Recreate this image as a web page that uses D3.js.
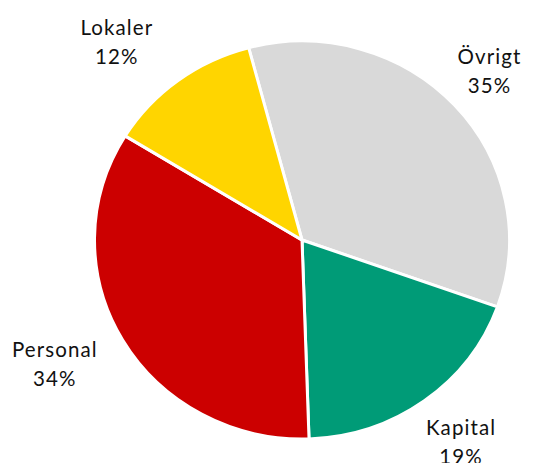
<!DOCTYPE html>
<html>
<head>
<meta charset="utf-8">
<script src="https://cdn.jsdelivr.net/npm/d3@7"></script>
<style>
  html, body { margin: 0; padding: 0; background: #fff; }
  svg text { font-family: "Lato", "DejaVu Sans", sans-serif; font-size: 20.5px; letter-spacing: 1.1px; fill: #111; }
</style>
</head>
<body>
<div id="chart"></div>
<script>
// slices, clockwise from the top-right
const categories = ["Övrigt", "Kapital", "Personal", "Lokaler"];
const shares = [34.6, 19.0, 34.3, 12.1];
const pctLabels = ["35%", "19%", "34%", "12%"];
const colors = ["#D9D9D9", "#009B77", "#CC0000", "#FFD500"];

const WIDTH = 544;
const HEIGHT = 463;
const cx = 302, cy = 240;
const R = 207.5;
const squash = 0.959; // the reference pie is slightly flattened
const startDeg = -14.9;

// label nudges from the outer centroid (Excel "best fit" placement)
const labelNudge = [[-11, -1], [0, -14], [-14, -13], [-24, 2]];
const lineGap = 29;

const data = categories.map((c, i) => ({ name: c, value: shares[i], pct: pctLabels[i], color: colors[i] }));

const svg = d3.select("#chart")
	.append("svg")
	.attr("width", WIDTH)
	.attr("height", HEIGHT)
	.attr("viewBox", `0 0 ${WIDTH} ${HEIGHT}`);

const start = startDeg * Math.PI / 180;
const pie = d3.pie()
	.sort(null)
	.value(d => d.value)
	.startAngle(start)
	.endAngle(start + 2 * Math.PI);

const arcs = pie(data);

const arcGen = d3.arc().innerRadius(0).outerRadius(R);
const labelArc = d3.arc().innerRadius(R * 1.3).outerRadius(R * 1.3);

svg.append("g")
	.attr("transform", `translate(${cx},${cy}) scale(1,${squash})`)
	.selectAll("path")
	.data(arcs)
	.join("path")
	.attr("d", arcGen)
	.attr("fill", d => d.data.color)
	.attr("stroke", "#fff")
	.attr("stroke-width", 3)
	.attr("vector-effect", "non-scaling-stroke");

const labels = svg.append("g")
	.selectAll("text")
	.data(arcs)
	.join("text")
	.attr("text-anchor", "middle")
	.attr("transform", (d, i) => {
		const [x, y] = labelArc.centroid(d);
		return `translate(${cx + x + labelNudge[i][0]},${cy + y * squash + labelNudge[i][1]})`;
	});

labels.append("tspan").attr("x", 0).attr("y", 0).text(d => d.data.name);
labels.append("tspan").attr("x", 0).attr("y", lineGap).text(d => d.data.pct);
</script>
</body>
</html>
